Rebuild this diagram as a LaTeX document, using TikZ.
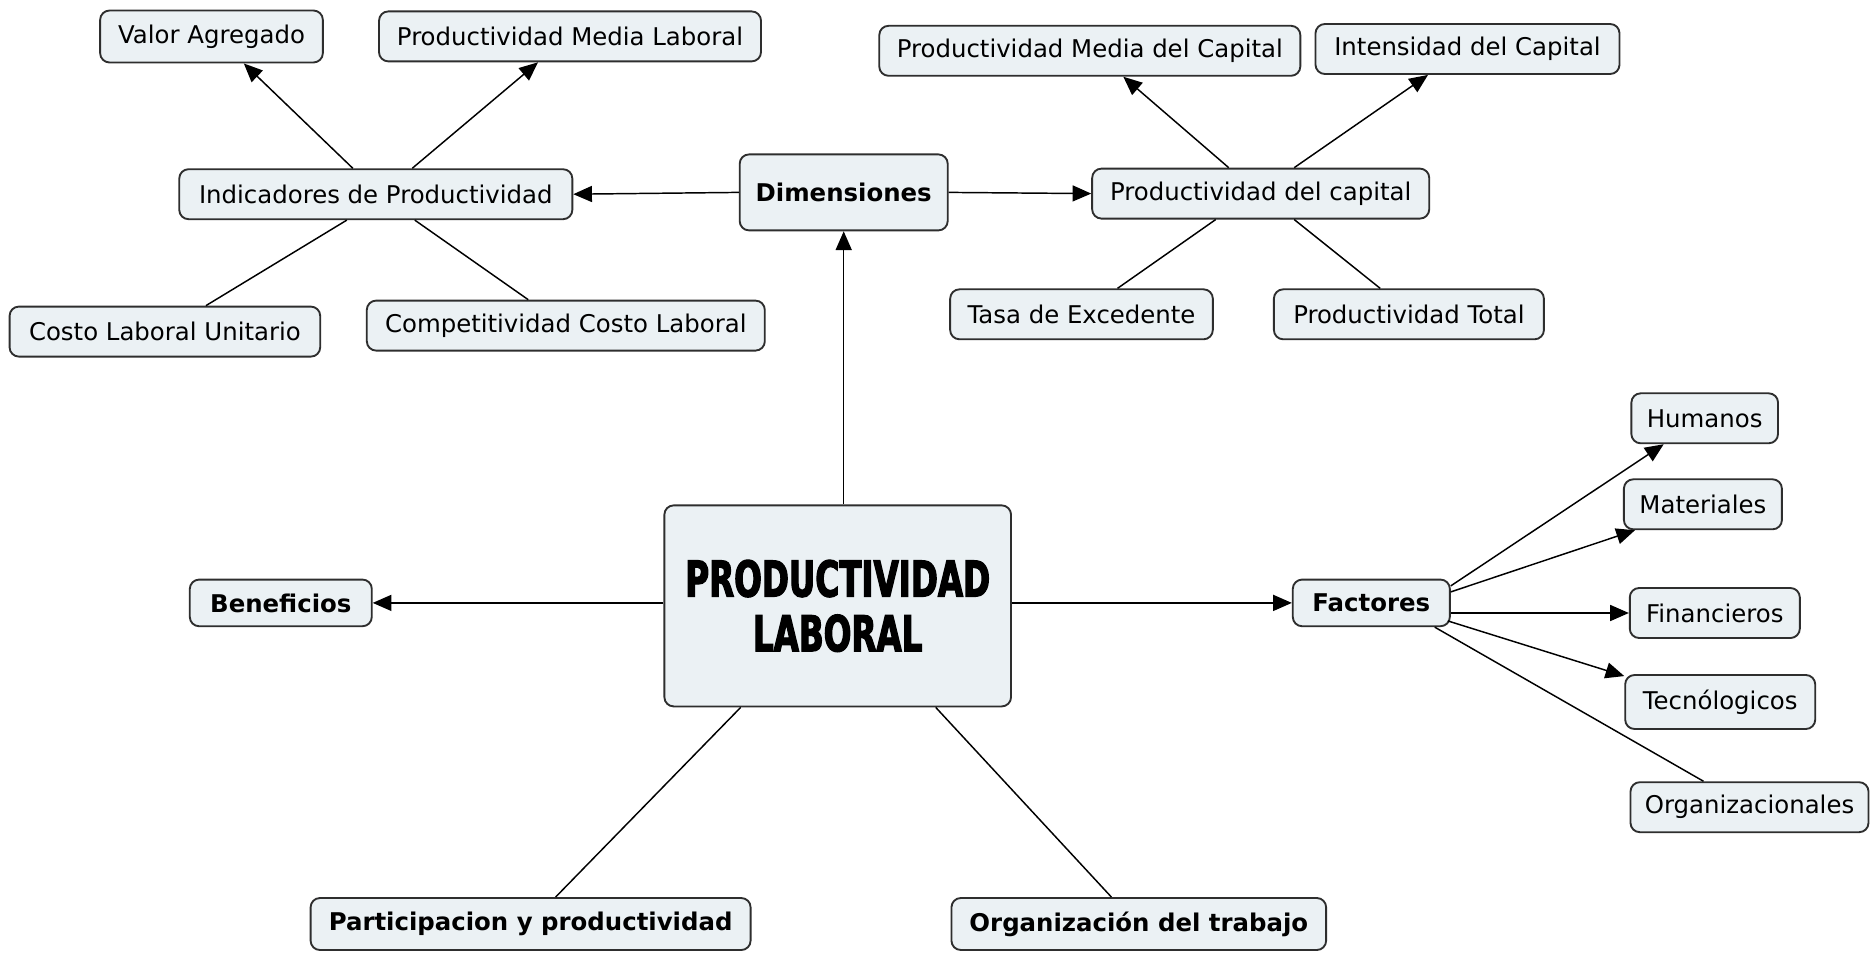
\documentclass[tikz,border=0pt]{standalone}
\usepackage{fontspec}
\setmainfont{DejaVu Sans}
\newfontfamily\impactfont{DejaVu Sans Bold}[FakeStretch=0.66,FakeBold=2.5]
\usetikzlibrary{arrows.meta,calc}
\definecolor{boxfill}{HTML}{EBF1F4}
\definecolor{boxline}{HTML}{2E2E2E}
\begin{document}
\begin{tikzpicture}[x=0.75pt,y=-0.75pt,
  box/.style={draw=boxline, fill=boxfill, line width=1.4pt, rounded corners=7pt,
    font=\fontsize{18.3}{21}\selectfont, minimum height=37.5pt, inner xsep=8pt, text=black},
  bbox/.style={box, font=\fontsize{18.3}{21}\selectfont\bfseries},
  arr/.style={-{Triangle[length=14pt,width=12pt]}, line width=1.1pt, draw=black},
  lnk/.style={line width=1.1pt, draw=black}]
\useasboundingbox[fill=white] (0,0) rectangle (1874,953);

\node[box, minimum width=167pt, minimum height=39pt] (val) at (211.5,36.5) {Valor Agregado};
\node[box, minimum width=286.5pt] (pml) at (570,36.4) {Productividad Media Laboral};
\node[box, minimum width=294.8pt] (ind) at (375.8,194.2) {Indicadores de Productividad};
\node[box, minimum width=233pt] (cos) at (164.9,331.6) {Costo Laboral Unitario};
\node[box, minimum width=298.5pt] (com) at (565.8,325.6) {Competitividad Costo Laboral};
\node[bbox, minimum width=156pt, minimum height=57pt] (dim) at (843.7,192.4) {Dimensiones};
\node[box, minimum width=315.8pt] (pmc) at (1089.8,50.8) {Productividad Media del Capital};
\node[box, minimum width=228pt] (int) at (1467.5,49) {Intensidad del Capital};
\node[box, minimum width=252.8pt] (pca) at (1260.7,193.6) {Productividad del capital};
\node[box, minimum width=197pt] (tas) at (1081.5,314.3) {Tasa de Excedente};
\node[box, minimum width=202.5pt] (pto) at (1408.9,314.3) {Productividad Total};
\node[box, minimum width=260pt, minimum height=150.8pt, align=center,
  font=\impactfont\fontsize{37}{41}\selectfont] (pl) at (837.7,605.9) {PRODUCTIVIDAD\\LABORAL};
\node[bbox, minimum width=136.5pt, minimum height=35pt] (ben) at (280.8,602.9) {Beneficios};
\node[bbox, minimum width=117.8pt, minimum height=35pt] (fac) at (1371.3,602.9) {Factores};
\node[box, minimum width=110pt] (hum) at (1704.7,418.3) {Humanos};
\node[box, minimum width=118.5pt] (mat) at (1702.9,504.3) {Materiales};
\node[box, minimum width=127.5pt] (fin) at (1714.8,613) {Financieros};
\node[box, minimum width=142.5pt, minimum height=40.5pt] (tec) at (1720.2,702) {Tecnólogicos};
\node[box, minimum width=178.5pt, inner xsep=6pt] (orz) at (1749.5,807.2) {Organizacionales};
\node[bbox, minimum width=330pt, minimum height=39pt] (par) at (530.6,924) {Participacion y productividad};
\node[bbox, minimum width=281pt, minimum height=39pt] (org) at (1138.8,924) {Organización del trabajo};

\draw[arr] ($(ind.north)+(-23,0)$) -- ($(val.south)+(32.3,0)$);
\draw[arr] ($(ind.north)+(36.5,0)$) -- ($(pml.south)+(-32,0)$);
\draw[lnk] ($(ind.south)+(-29,0)$) -- ($(cos.north)+(41,0)$);
\draw[lnk] ($(ind.south)+(39,0)$) -- ($(com.north)+(-37.6,0)$);
\draw[arr] (dim.west) -- (ind.east);
\draw[arr] (dim.east) -- (pca.west);
\draw[arr] (pl.north -| dim.south) -- (dim.south);
\draw[arr] ($(pca.north)+(-32,0)$) -- ($(pmc.south)+(33.5,0)$);
\draw[arr] ($(pca.north)+(33.5,0)$) -- ($(int.south)+(-39.5,0)$);
\draw[lnk] ($(pca.south)+(-45,0)$) -- ($(tas.north)+(36,0)$);
\draw[lnk] ($(pca.south)+(33.5,0)$) -- ($(pto.north)+(-28.7,0)$);
\draw[arr] (pl.west |- ben.east) -- (ben.east);
\draw[arr] (pl.east |- fac.west) -- (fac.west);
\draw[lnk] ($(pl.south)+(-97,0)$) -- ($(par.north)+(25,0)$);
\draw[lnk] ($(pl.south)+(98,0)$) -- ($(org.north)+(-27.4,0)$);
\draw[arr] ($(fac.east)+(0,-17)$) -- ($(hum.south)+(-41,0)$);
\draw[arr] ($(fac.east)+(0,-11)$) -- ($(mat.south west)+(12,0)$);
\draw[arr] (fac.east |- fin.west) -- (fin.west);
\draw[arr] ($(fac.east)+(-3,18)$) -- ($(tec.north west)+(0,2)$);
\draw[lnk] ($(fac.south east)+(-16,0)$) -- ($(orz.north)+(-46,0)$);
\end{tikzpicture}
\end{document}
